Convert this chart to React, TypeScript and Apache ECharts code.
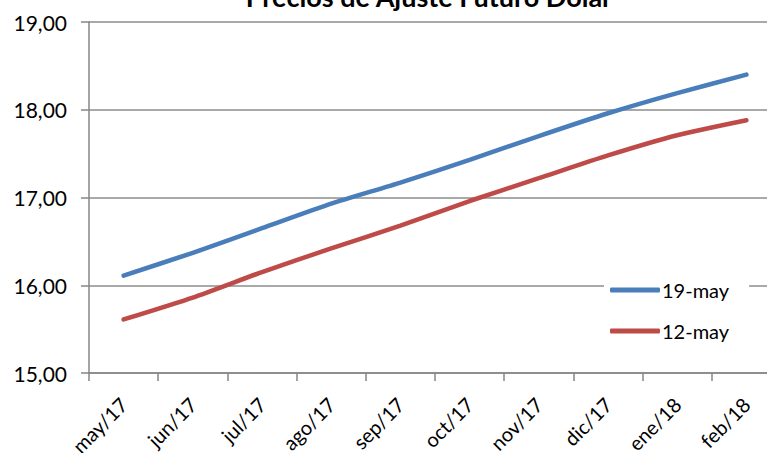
import React, { useEffect, useRef } from "react";
import * as echarts from "echarts";

const categories = ["may/17", "jun/17", "jul/17", "ago/17", "sep/17", "oct/17", "nov/17", "dic/17", "ene/18", "feb/18"];
const serie19 = [16.11, 16.37, 16.65, 16.93, 17.17, 17.43, 17.70, 17.96, 18.19, 18.40];
const serie12 = [15.61, 15.86, 16.15, 16.42, 16.68, 16.96, 17.22, 17.48, 17.71, 17.88];
const titleText = "Precios de Ajuste Futuro Dólar";

const FONT = "Lato, 'Liberation Sans', sans-serif";

export default function App() {
  const ref = useRef<HTMLDivElement>(null);
  useEffect(() => {
    if (!ref.current) return;
    const chart = echarts.init(ref.current, null, { renderer: "svg" });
    chart.setOption({
      animation: false,
      backgroundColor: "#ffffff",
      textStyle: { fontFamily: FONT },
      graphic: [
        {
          type: "text",
          x: 429,
          y: 10,
          style: {
            text: titleText,
            fontSize: 27,
            fontWeight: "bold",
            fontFamily: FONT,
            fill: "#000",
            align: "center",
            verticalAlign: "bottom",
          },
        },
      ],
      grid: {
        left: 89,
        top: 22,
        height: 351,
        width: 692,
        containLabel: false,
        outerBoundsMode: "none",
      },
      legend: {
        orient: "vertical",
        left: 604,
        top: 276,
        itemWidth: 50,
        itemHeight: 5,
        itemGap: 21,
        icon: "roundRect",
        backgroundColor: "#ffffff",
        padding: [4, 20, 6, 6],
        textStyle: { fontSize: 20, color: "#000", fontFamily: FONT, padding: [0, 0, 0, -3] },
        data: ["19-may", "12-may"],
      },
      xAxis: {
        type: "category",
        data: categories,
        boundaryGap: true,
        axisLine: { lineStyle: { color: "#868686", width: 1.5 } },
        axisTick: { show: true, length: 8, lineStyle: { color: "#868686", width: 1.5 } },
        axisLabel: { rotate: 45, fontSize: 20, color: "#000", margin: 28, fontFamily: FONT },
      },
      yAxis: {
        type: "value",
        min: 15,
        max: 19,
        interval: 1,
        axisLine: { show: true, lineStyle: { color: "#868686", width: 1.5 } },
        axisTick: { show: true, length: 8, lineStyle: { color: "#868686", width: 1.5 } },
        splitLine: { lineStyle: { color: "#8c8c8c", width: 1.5 } },
        axisLabel: {
          fontSize: 21,
          color: "#000",
          margin: 22,
          fontFamily: FONT,
          formatter: (v: number) => v.toFixed(2).replace(".", ","),
        },
      },
      series: [
        {
          name: "19-may",
          type: "line",
          data: serie19,
          smooth: 0.2,
          showSymbol: false,
          symbol: "none",
          lineStyle: { color: "#4a7ebb", width: 4.5, cap: "round" },
          itemStyle: { color: "#4a7ebb" },
        },
        {
          name: "12-may",
          type: "line",
          data: serie12,
          smooth: 0.2,
          showSymbol: false,
          symbol: "none",
          lineStyle: { color: "#be4b48", width: 4.5, cap: "round" },
          itemStyle: { color: "#be4b48" },
        },
      ],
    });
    return () => chart.dispose();
  }, []);
  return <div ref={ref} style={{ width: 767, height: 453, position: "absolute", left: 0, top: 0 }} />;
}
